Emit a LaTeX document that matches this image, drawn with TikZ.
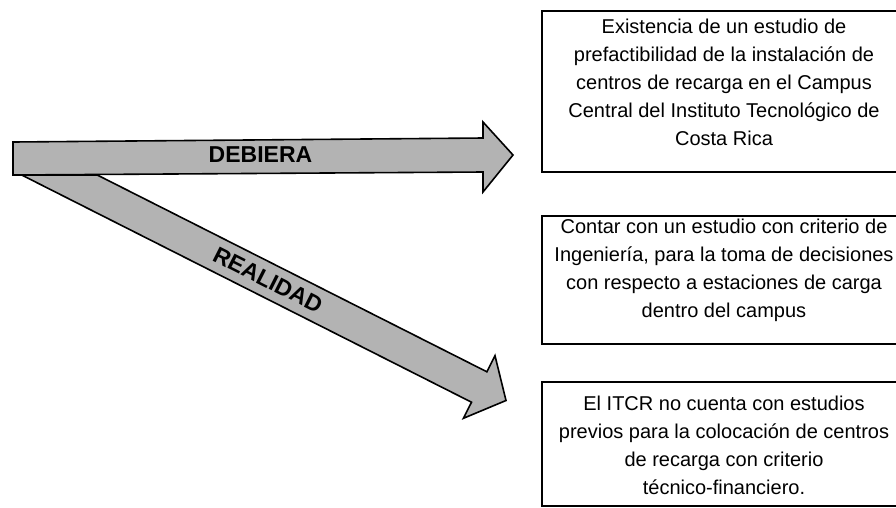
\documentclass[tikz,border=0pt]{standalone}
\usepackage{fontspec}
\setmainfont{Liberation Sans}
\definecolor{arrowgray}{RGB}{179,179,179}
\begin{document}
\begin{tikzpicture}[x=1pt,y=-1pt,
  arrowshape/.style={fill=arrowgray, draw=black, line width=1.6pt, line join=miter},
  boxframe/.style={rectangle, draw=black, line width=2pt, minimum width=366pt, inner sep=0pt, anchor=north west},
  boxtext/.style={align=center, font=\fontsize{20}{28}\selectfont, inner sep=0pt},
  arrowlabel/.style={font=\fontsize{23}{27}\selectfont\bfseries, inner sep=0pt}]
\useasboundingbox (0,0) rectangle (896,507);
% REALIDAD arrow (drawn first, partly hidden)
\path[arrowshape] (21.7,175) -- (97.3,175) -- (486.9,371.8) -- (495.0,355.7) -- (506,400.5)
  -- (463.4,418.3) -- (471.5,402.2) -- cycle;
% DEBIERA arrow
\path[arrowshape] (13,142) -- (483,138) -- (483,122) -- (513,155) -- (483,192) -- (483,172) -- (13,175) -- cycle;
\node[arrowlabel] (debiera) at (260.5,155) {DEBIERA};
\node[arrowlabel, rotate=-26.8] (realidad) at (268,280) {REALIDAD};
% boxes
\node[boxframe, minimum height=161pt] (box1) at (541,10) {};
\node[boxframe, minimum height=128pt] (box2) at (541,215) {};
\node[boxframe, minimum height=124pt] (box3) at (541,381) {};
\node[boxtext] (text1) at (724,82) {Existencia de un estudio de\\prefactibilidad de la instalación de\\centros de recarga en el Campus\\Central del Instituto Tecnológico de\\Costa Rica};
\node[boxtext] (text2) at (724,270) {Contar con un estudio con criterio de\\Ingeniería, para la toma de decisiones\\con respecto a estaciones de carga\\dentro del campus};
\node[boxtext] (text3) at (724,445.5) {El ITCR no cuenta con estudios\\previos para la colocación de centros\\de recarga con criterio\\técnico-financiero.};
\end{tikzpicture}
\end{document}
